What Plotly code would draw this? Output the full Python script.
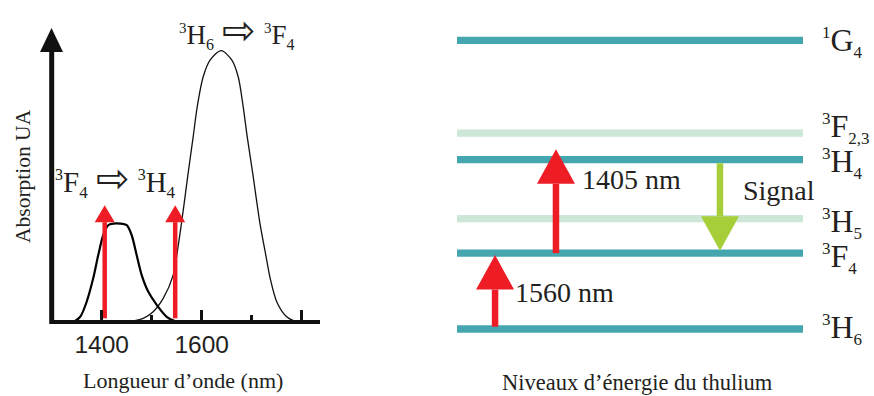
import plotly.graph_objects as go

W, H = 874, 396

# ---------------- data: absorption spectrum (left) ----------------
small_nm = [1300, 1343, 1357, 1370, 1383, 1393, 1403, 1413, 1423, 1437, 1450, 1460, 1470, 1480, 1493, 1510, 1530, 1547, 1560]
small_abs = [0, 0, 0.018, 0.074, 0.160, 0.245, 0.319, 0.356, 0.362, 0.362, 0.356, 0.319, 0.245, 0.172, 0.111, 0.062, 0.018, 0.002, 0]

big_nm = [1440, 1463, 1483, 1503, 1523, 1543, 1553, 1563, 1573, 1583, 1591, 1603, 1617, 1639,
          1660, 1673, 1683, 1691, 1702, 1717, 1727, 1737, 1750, 1770, 1787, 1800]
big_abs = [0, 0.003, 0.0125, 0.037, 0.086, 0.172, 0.28, 0.41, 0.55, 0.683, 0.793, 0.904, 0.966, 1.0,
           0.966, 0.904, 0.793, 0.683, 0.548, 0.357, 0.258, 0.160, 0.074, 0.018, 0.002, 0]

pump_nm = [1406, 1547]          # red pump arrows on the spectrum
pump_top = 0.43
pump_bottom = 0.0125

x_tickvals = [1400, 1600, 1800]
x_ticktext = ["1400", "1600", ""]
x_minor = [1500, 1700]

# ---------------- data: energy levels (right), cm-1 ----------------
level_E = [0, 5600, 8150, 12500, 14450, 21300]
level_sup = ["3", "3", "3", "3", "3", "1"]
level_letter = ["H", "F", "H", "H", "F", "G"]
level_sub = ["6", "4", "5", "4", "2,3", "4"]
level_main = [True, True, False, True, False, True]

# transitions: (x position fraction, start energy, tip energy, label)
trans_x = [0.11, 0.286, 0.760]
trans_start = [170, 5600, 12225]
trans_end = [5460, 13258, 5777]
trans_label = ["1560 nm", "1405 nm", "Signal"]
trans_kind = ["pump", "pump", "signal"]

# ---------------- styles ----------------
TEAL = "#46A6B0"
LIGHT = "#CCE6D7"
RED = "#EE1C25"
GREEN = "#A6CE39"
TXT = "#231F20"
SERIF = "Liberation Serif, Times New Roman, serif"
SANS = "Liberation Sans, Arial, sans-serif"

def px(x):
    return x / W

def py(y):
    return 1 - y / H

def term(sup, letter, sub, sup_size, sub_size):
    return (f"<sup><span style='font-size:{sup_size}px'>{sup}</span></sup>{letter}"
            f"<sub><span style='font-size:{sub_size}px'>{sub}</span></sub>")

# left plot geometry (pixels)
L_X0, L_X1 = 50, 320
L_Y0, L_Y1 = 320, 28
# right plot geometry
R_X0, R_X1 = 457, 803
R_Y0, R_Y1 = 345, 25
E_PER_PX = 1 / 0.013554

fig = go.Figure()

# spectrum curves
fig.add_trace(go.Scatter(x=big_nm, y=big_abs, mode="lines", line=dict(color="#111", width=1.3, shape="spline", smoothing=0.8),
                         xaxis="x", yaxis="y", hoverinfo="skip"))
fig.add_trace(go.Scatter(x=small_nm, y=small_abs, mode="lines", line=dict(color="#000", width=2.2, shape="spline", smoothing=0.8),
                         xaxis="x", yaxis="y", hoverinfo="skip"))

# red pump arrows on spectrum
nm_per_px = 2.0
abs_per_px = 1 / 271.0
head_w = 10 * nm_per_px
head_h = 17 * abs_per_px
for w in pump_nm:
    fig.add_trace(go.Scatter(x=[w, w], y=[pump_bottom, pump_top - head_h], mode="lines",
                             line=dict(color=RED, width=4.5), xaxis="x", yaxis="y", hoverinfo="skip"))
    fig.add_trace(go.Scatter(x=[w - head_w, w + head_w, w, w - head_w],
                             y=[pump_top - head_h, pump_top - head_h, pump_top, pump_top - head_h],
                             mode="lines", fill="toself", fillcolor=RED, line=dict(color=RED, width=0),
                             xaxis="x", yaxis="y", hoverinfo="skip"))

# energy levels
for E, main in zip(level_E, level_main):
    fig.add_trace(go.Scatter(x=[0, 1], y=[E, E], mode="lines",
                             line=dict(color=TEAL if main else LIGHT, width=7.3),
                             xaxis="x2", yaxis="y2", hoverinfo="skip"))

# transition arrows
xw = 19 / (R_X1 - R_X0)
hh = 34.5 * E_PER_PX
for x, s, e, kind in zip(trans_x, trans_start, trans_end, trans_kind):
    col = RED if kind == "pump" else GREEN
    sgn = 1 if e > s else -1
    base = e - sgn * hh
    fig.add_trace(go.Scatter(x=[x, x], y=[s, base], mode="lines", line=dict(color=col, width=6.5),
                             xaxis="x2", yaxis="y2", hoverinfo="skip"))
    fig.add_trace(go.Scatter(x=[x - xw, x + xw, x, x - xw], y=[base, base, e, base], mode="lines",
                             fill="toself", fillcolor=col, line=dict(color=col, width=0),
                             xaxis="x2", yaxis="y2", hoverinfo="skip"))

annotations = []
# transition labels
lab_pos = {"1560 nm": (0.163, 2730), "1405 nm": (0.355, 11000), "Signal": (0.820, 10255)}
for lab in trans_label:
    lx, ly = lab_pos[lab]
    annotations.append(dict(x=lx, y=ly, xref="x2", yref="y2", text=lab, showarrow=False,
                            xanchor="left", yanchor="middle", font=dict(family=SERIF, size=28, color=TXT)))

# level labels
lvl_shift = [0, -5, -4, -3, 5, -2]
for E, s1, let, s2, sh in zip(level_E, level_sup, level_letter, level_sub, lvl_shift):
    annotations.append(dict(x=px(820), y=E, xref="paper", yref="y2", text=term(s1, let, s2, 17, 17),
                            showarrow=False, xanchor="left", yanchor="middle", yshift=sh,
                            font=dict(family=SERIF, size=32, color=TXT)))

# left labels
ARROW = "<span style='font-size:40px'>\u2009\u21e8\u2009</span>"
annotations.append(dict(x=px(237), y=py(30), xref="paper", yref="paper",
                        text=term("3", "H", "6", 15, 16) + ARROW + term("3", "F", "4", 15, 16),
                        showarrow=False, xanchor="center", yanchor="middle",
                        font=dict(family=SERIF, size=27, color=TXT)))
annotations.append(dict(x=px(116), y=py(179), xref="paper", yref="paper",
                        text=term("3", "F", "4", 16, 17) + ARROW + term("3", "H", "4", 16, 17),
                        showarrow=False, xanchor="center", yanchor="middle",
                        font=dict(family=SERIF, size=29, color=TXT)))
annotations.append(dict(x=px(23), y=py(176), xref="paper", yref="paper", text="Absorption UA",
                        textangle=-90, showarrow=False, xanchor="center", yanchor="middle",
                        font=dict(family=SERIF, size=21.5, color=TXT)))
annotations.append(dict(x=px(183), y=py(380), xref="paper", yref="paper", text="Longueur d\u2019onde (nm)",
                        showarrow=False, xanchor="center", yanchor="middle",
                        font=dict(family=SERIF, size=22, color=TXT)))
annotations.append(dict(x=px(637), y=py(382), xref="paper", yref="paper", text="Niveaux d\u2019\u00e9nergie du thulium",
                        showarrow=False, xanchor="center", yanchor="middle",
                        font=dict(family=SERIF, size=22.5, color=TXT)))

# y axis arrow (left)
shapes = [
    dict(type="line", xref="paper", yref="paper", x0=px(51.7), x1=px(51.7), y0=py(324), y1=py(50),
         line=dict(color="#111", width=5)),
    dict(type="path", xref="paper", yref="paper",
         path=f"M {px(40)},{py(52)} L {px(63)},{py(52)} L {px(51.5)},{py(28)} Z",
         fillcolor="#111", line=dict(color="#111", width=0)),
]

x_range = [1400 - (101.7 - L_X0) * nm_per_px, 1400 + (L_X1 - 101.7) * nm_per_px]
y_range = [(321.7 - L_Y0) * abs_per_px, (321.7 - L_Y1) * abs_per_px]
y2_range = [(329 - R_Y0) * E_PER_PX, (329 - R_Y1) * E_PER_PX]

fig.update_layout(
    width=W, height=H, margin=dict(l=0, r=0, t=0, b=0),
    paper_bgcolor="white", plot_bgcolor="rgba(0,0,0,0)", showlegend=False,
    xaxis=dict(domain=[px(L_X0), px(L_X1)], range=x_range, showline=True, linewidth=4, linecolor="#111",
               ticks="inside", ticklen=10, tickwidth=3, tickcolor="#111", tickvals=x_tickvals, ticktext=x_ticktext,
               minor=dict(ticks="inside", ticklen=5, tickwidth=3, tickcolor="#111", tickvals=x_minor),
               tickfont=dict(family=SANS, size=24.5, color=TXT), ticklabelstandoff=0,
               showgrid=False, zeroline=False, anchor="y", fixedrange=True),
    yaxis=dict(domain=[py(L_Y0), py(L_Y1)], range=y_range, visible=False, showgrid=False, zeroline=False,
               anchor="x", fixedrange=True),
    xaxis2=dict(domain=[px(R_X0), px(R_X1)], range=[0, 1], visible=False, anchor="y2", fixedrange=True),
    yaxis2=dict(domain=[py(R_Y0), py(R_Y1)], range=y2_range, visible=False, anchor="x2", fixedrange=True),
    annotations=annotations, shapes=shapes,
)

fig.write_html("out.html", config={"displayModeBar": False},
               post_script="document.body.style.margin='0';document.body.style.overflow='hidden';")
